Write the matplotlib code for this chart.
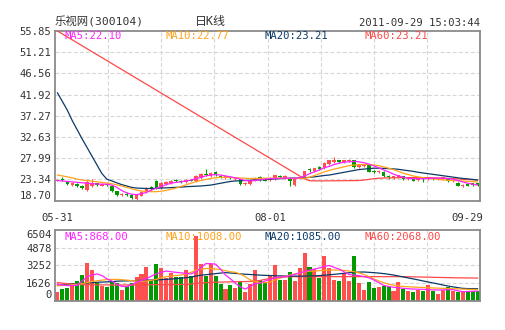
import numpy as np
import matplotlib
matplotlib.use('Agg')
import matplotlib.pyplot as plt
from matplotlib import transforms

plt.rcParams['font.family'] = ['DejaVu Sans Mono', 'Noto Sans CJK SC']

# daily K line, 2011-05-31 .. 2011-09-29 (86 trading days)
opens = [23.0, 23.5, 22.9, 22.2, 22.4, 22.0, 21.0, 21.9, 22.5, 22.0,
         22.4, 22.0, 20.7, 19.9, 20.2, 20.0, 19.0, 19.8, 20.5, 21.6,
         23.0, 21.5, 22.4, 22.5, 23.3, 23.0, 22.8, 23.3, 22.9, 23.6,
         24.6, 24.0, 25.0, 24.1, 23.7, 23.9, 23.5, 23.4, 22.4, 22.4,
         23.3, 23.8, 23.3, 23.2, 23.5, 24.1, 23.7, 23.7, 22.2, 23.6,
         23.9, 25.6, 25.2, 26.0, 25.8, 26.8, 27.2, 27.5, 27.1, 27.3,
         27.6, 26.1, 26.3, 26.5, 25.2, 24.9, 25.0, 24.1, 23.7, 23.8,
         24.0, 23.4, 23.4, 23.3, 23.6, 23.4, 23.7, 23.5, 23.5, 23.6,
         22.9, 22.6, 21.9, 22.4, 22.5, 22.5]
closes = [23.3, 23.2, 22.4, 22.6, 21.8, 21.4, 22.8, 22.6, 22.1, 22.4,
          22.2, 20.8, 20.0, 20.1, 20.0, 19.2, 19.9, 20.6, 21.5, 21.3,
          21.5, 22.5, 22.7, 23.1, 22.9, 22.8, 23.3, 23.1, 24.0, 24.5,
          24.3, 24.8, 24.2, 23.8, 24.0, 23.6, 23.7, 22.4, 22.6, 23.3,
          23.6, 23.3, 23.1, 23.7, 24.3, 23.8, 24.0, 22.9, 23.6, 23.9,
          25.1, 25.3, 25.8, 25.7, 27.0, 27.5, 27.6, 27.2, 27.5, 27.7,
          26.1, 26.4, 26.5, 25.0, 24.9, 25.2, 24.0, 23.8, 24.0, 24.2,
          23.5, 23.6, 23.1, 23.6, 23.4, 23.8, 23.5, 23.6, 23.8, 23.0,
          23.1, 22.0, 22.1, 22.0, 22.2, 22.2]
highs = [23.5, 23.9, 23.0, 22.8, 22.5, 22.1, 23.2, 23.4, 22.6, 22.6,
         22.5, 22.1, 20.8, 20.3, 20.6, 20.1, 20.1, 20.8, 21.6, 21.8,
         23.2, 22.7, 22.9, 23.2, 23.5, 23.2, 23.5, 23.4, 24.2, 24.7,
         25.6, 25.0, 25.1, 24.2, 24.1, 24.0, 23.9, 23.5, 22.8, 23.4,
         23.8, 24.0, 23.4, 23.9, 24.4, 24.2, 24.3, 23.8, 23.7, 24.0,
         25.2, 25.8, 25.9, 26.3, 27.1, 27.7, 28.2, 27.6, 27.7, 27.9,
         27.7, 26.6, 26.8, 26.7, 25.3, 25.4, 25.1, 24.2, 24.1, 24.3,
         24.1, 23.8, 23.5, 23.7, 23.7, 23.9, 23.8, 23.7, 23.9, 23.7,
         23.2, 22.7, 22.3, 22.5, 22.6, 22.6]
lows = [22.9, 23.0, 22.2, 22.0, 21.6, 21.2, 20.8, 21.6, 21.9, 21.9,
        22.0, 20.6, 19.8, 19.8, 19.7, 19.0, 18.8, 19.6, 20.3, 21.1,
        21.3, 21.3, 22.2, 22.3, 22.7, 22.6, 22.6, 22.9, 22.7, 23.4,
        24.0, 23.8, 24.0, 23.6, 23.5, 23.4, 23.3, 22.2, 22.2, 22.2,
        23.1, 23.1, 22.9, 23.0, 23.3, 23.6, 23.5, 21.8, 22.0, 23.4,
        23.8, 25.0, 25.0, 25.5, 25.6, 26.6, 27.0, 27.0, 26.9, 27.1,
        25.9, 25.9, 26.1, 24.9, 24.7, 24.7, 23.8, 23.5, 23.5, 23.6,
        23.3, 23.2, 22.9, 23.1, 22.8, 23.2, 23.3, 23.3, 23.3, 22.8,
        22.7, 21.8, 21.7, 21.8, 22.0, 22.0]

ma5 = [23.1, 23.0, 22.9, 22.8, 22.7, 22.6, 22.5, 22.4, 22.35, 22.3,
       22.3, 22.1, 21.6, 20.9, 20.4, 20.1, 20.0, 20.2, 20.5, 21.0,
       21.4, 21.8, 22.2, 22.5, 22.7, 22.8, 23.0, 23.2, 23.5, 23.8,
       24.1, 24.3, 24.4, 24.3, 24.1, 23.9, 23.7, 23.4, 23.1, 23.0,
       23.1, 23.3, 23.4, 23.5, 23.55, 23.6, 23.6, 23.6, 23.6, 23.7,
       24.1, 24.6, 25.0, 25.4, 25.9, 26.2, 26.6, 26.9, 27.1, 27.2,
       27.3, 27.2, 27.0, 26.7, 26.3, 25.9, 25.4, 25.0, 24.5, 24.1,
       23.8, 23.6, 23.5, 23.5, 23.5, 23.55, 23.6, 23.6, 23.6, 23.55,
       23.4, 23.1, 22.8, 22.5, 22.3, 22.10]
ma10 = [24.3, 24.1, 23.9, 23.7, 23.4, 23.2, 23.1, 22.95, 22.8, 22.7,
        22.55, 22.4, 22.15, 21.9, 21.6, 21.3, 21.0, 20.8, 20.7, 20.65,
        20.65, 20.75, 20.95, 21.2, 21.45, 21.8, 22.15, 22.5, 22.85, 23.1,
        23.35, 23.55, 23.7, 23.8, 23.8, 23.75, 23.7, 23.65, 23.6, 23.55,
        23.55, 23.58, 23.6, 23.6, 23.6, 23.62, 23.6, 23.55, 23.55, 23.58,
        23.6, 23.8, 24.2, 24.6, 25.0, 25.3, 25.6, 25.85, 26.1, 26.35,
        26.5, 26.6, 26.65, 26.6, 26.5, 26.35, 26.1, 25.8, 25.5, 25.1,
        24.7, 24.4, 24.1, 23.9, 23.7, 23.55, 23.45, 23.35, 23.25, 23.15,
        23.1, 23.05, 23.0, 22.9, 22.85, 22.77]
ma20 = [42.3, 40.4, 38.5, 36.2, 34.2, 32.2, 30.3, 28.4, 26.5, 24.6,
        23.4, 23.0, 22.6, 22.2, 21.9, 21.6, 21.45, 21.4, 21.35, 21.35,
        21.4, 21.45, 21.5, 21.55, 21.6, 21.65, 21.75, 21.8, 21.85, 21.9,
        22.0, 22.1, 22.3, 22.5, 22.7, 22.9, 23.0, 23.05, 23.1, 23.15,
        23.2, 23.25, 23.3, 23.4, 23.45, 23.5, 23.55, 23.6, 23.62, 23.65,
        23.7, 23.8, 23.9, 24.05, 24.2, 24.3, 24.5, 24.7, 24.9, 25.1,
        25.3, 25.5, 25.6, 25.7, 25.8, 25.8, 25.75, 25.7, 25.65, 25.55,
        25.4, 25.25, 25.1, 24.9, 24.75, 24.6, 24.45, 24.3, 24.15, 24.0,
        23.85, 23.7, 23.55, 23.45, 23.35, 23.21]
ma60 = [55.85, 55.20, 54.55, 53.91, 53.26, 52.61, 51.96, 51.31, 50.67, 50.02,
        49.37, 48.72, 48.07, 47.43, 46.78, 46.13, 45.48, 44.83, 44.19, 43.54,
        42.89, 42.24, 41.59, 40.95, 40.30, 39.65, 39.00, 38.35, 37.71, 37.06,
        36.41, 35.76, 35.11, 34.47, 33.82, 33.17, 32.52, 31.87, 31.23, 30.58,
        29.93, 29.28, 28.63, 27.99, 27.34, 26.69, 26.04, 25.39, 24.75, 24.10,
        23.45, 23.05, 23.03, 23.02, 23.02, 23.03, 23.04, 23.05, 23.06, 23.07,
        23.08, 23.10, 23.20, 23.35, 23.50, 23.60, 23.65, 23.68, 23.70, 23.72,
        23.73, 23.74, 23.75, 23.75, 23.74, 23.72, 23.68, 23.64, 23.60, 23.55,
        23.50, 23.45, 23.38, 23.32, 23.26, 23.21]

volume = [812, 1034, 1181, 1643, 1800, 2354, 3489, 2815, 1600, 1300,
          1250, 1750, 1650, 950, 1300, 1650, 2150, 2450, 3100, 1850,
          3350, 3000, 2050, 2500, 2200, 2200, 2800, 2250, 5950, 3350,
          2250, 3400, 2300, 1500, 1080, 1450, 1150, 1700, 800, 1500,
          2800, 1892, 1700, 2354, 3277, 1892, 1900, 2658, 1800, 3027,
          4357, 3120, 2900, 2104, 4107, 3000, 1892, 1800, 2510, 1800,
          4107, 1588, 969, 1735, 1181, 1250, 1338, 1250, 904, 1680,
          1034, 900, 812, 969, 900, 1431, 900, 572, 969, 1274,
          900, 800, 900, 850, 900, 890]
vma5 = [1500, 1420, 1370, 1380, 1400, 1800, 2200, 2350, 2450, 2300,
        2000, 1800, 1500, 1300, 1280, 1450, 1700, 1850, 2000, 2250,
        2450, 2600, 2720, 2650, 2600, 2550, 2500, 2450, 2650, 3000,
        3400, 3400, 3350, 2900, 2350, 2000, 1600, 1250, 1060, 1300,
        1550, 1610, 1800, 1950, 2100, 2150, 2200, 2300, 2400, 2550,
        2660, 2800, 2900, 3000, 3150, 3230, 3050, 2900, 2650, 2400,
        2350, 2300, 2200, 2100, 1900, 1650, 1400, 1300, 1220, 1180,
        1120, 1080, 1060, 1040, 1030, 1000, 980, 970, 980, 990,
        1000, 900, 800, 830, 850, 868]
vma10 = [1350, 1380, 1420, 1460, 1500, 1560, 1650, 1750, 1820, 1880,
         1930, 1950, 1950, 1920, 1880, 1830, 1800, 1780, 1800, 1850,
         1950, 2100, 2200, 2250, 2300, 2350, 2450, 2600, 2800, 2900,
         2950, 2950, 2900, 2850, 2750, 2650, 2600, 2450, 2200, 1900,
         1750, 1650, 1650, 1700, 1900, 2050, 2200, 2350, 2450, 2550,
         2650, 2700, 2720, 2750, 2780, 2800, 2815, 2800, 2780, 2720,
         2660, 2550, 2400, 2200, 2000, 1800, 1650, 1500, 1420, 1350,
         1300, 1270, 1240, 1220, 1200, 1180, 1160, 1140, 1120, 1100,
         1090, 1070, 1050, 1035, 1020, 1008]
vma20 = [1420, 1440, 1470, 1500, 1540, 1580, 1620, 1650, 1680, 1700,
         1720, 1740, 1780, 1800, 1810, 1820, 1840, 1850, 1870, 1890,
         1900, 1920, 1950, 1980, 2020, 2060, 2100, 2160, 2250, 2330,
         2380, 2430, 2480, 2530, 2570, 2540, 2500, 2460, 2420, 2400,
         2370, 2340, 2320, 2300, 2280, 2270, 2260, 2250, 2250, 2250,
         2250, 2260, 2270, 2300, 2330, 2370, 2416, 2460, 2510, 2560,
         2600, 2620, 2630, 2600, 2570, 2530, 2480, 2420, 2350, 2260,
         2170, 2080, 1990, 1900, 1800, 1710, 1620, 1530, 1425, 1340,
         1260, 1190, 1120, 1100, 1090, 1085]
vma60 = [1650, 1600, 1550, 1500, 1480, 1460, 1450, 1450, 1440, 1440,
         1440, 1430, 1430, 1430, 1440, 1440, 1440, 1450, 1450, 1450,
         1460, 1460, 1460, 1470, 1470, 1480, 1480, 1500, 1580, 1620,
         1650, 1670, 1690, 1700, 1710, 1720, 1730, 1740, 1750, 1760,
         1780, 1850, 1950, 2030, 2100, 2130, 2160, 2190, 2200, 2200,
         2200, 2200, 2200, 2200, 2200, 2200, 2200, 2200, 2200, 2200,
         2200, 2200, 2200, 2200, 2200, 2200, 2200, 2200, 2200, 2200,
         2200, 2190, 2180, 2170, 2160, 2150, 2140, 2130, 2120, 2110,
         2100, 2090, 2085, 2080, 2075, 2068]

price_ticks = [18.70, 23.34, 27.99, 32.63, 37.27, 41.92, 46.56, 51.21, 55.85]
price_labels = ['18.70', '23.34', '27.99', '32.63', '37.27', '41.92', '46.56', '51.21', '55.85']
vol_ticks = [0, 1626, 3252, 4878, 6504]
vol_labels = ['0', '1626', '3252', '4878', '6504']
date_pos = [0, 43, 85]
date_labels = ['05-31', '08-01', '09-29']

stock_name = '乐视网(300104)'
period_name = '日K线'
stamp = '2011-09-29 15:03:44'

RED = '#ff4f4f'
GREEN = '#009a00'
MA_COLORS = ['#ff22ff', '#ffa31a', '#0b3a68', '#ff4848']
GRID = '#d6d6d6'
FRAME = '#8a8a8a'
TEXT = '#333333'

n = len(closes)
x = np.arange(n)


def style_panel(ax, ticks, labels):
    ax.set_xlim(-0.5, n - 0.5)
    ax.set_ylim(ticks[0], ticks[-1])
    ax.set_yticks(ticks, labels)
    ax.tick_params(axis='y', length=0, pad=2.5, labelsize=7.6, labelcolor=TEXT)
    ax.set_xticks([])
    for s in ax.spines.values():
        s.set_color(FRAME)
        s.set_linewidth(1.3)
    for v in ticks[1:-1]:
        ax.axhline(v, color=GRID, lw=0.8, ls=(0, (3.5, 2)), zorder=0)
    for k in range(1, 8):
        ax.axvline(-0.5 + k * n / 8, color=GRID, lw=0.8, ls=(0, (3.5, 2)), zorder=0)


def ma_legend(ax, values, fmt, ypos):
    names = ['MA5', 'MA10', 'MA20', 'MA60']
    xs = [0.0235, 0.259, 0.494, 0.729]
    for name, vals, col, xp in zip(names, values, MA_COLORS, xs):
        ax.text(xp, ypos, f'{name}:{vals[-1]:{fmt}}', color=col, fontsize=7.6,
                transform=ax.transAxes, va='center', ha='left', zorder=6)


fig = plt.figure(figsize=(5.05, 3.30), dpi=100)
ax_k = fig.add_axes([55 / 505, 1 - 200.6 / 330, 425 / 505, 169.6 / 330])
ax_v = fig.add_axes([55 / 505, 1 - 300.5 / 330, 425 / 505, 70.5 / 330])

# --- price panel
style_panel(ax_k, price_ticks, price_labels)
ax_k.get_yticklabels()[0].set_va('bottom')

o = np.array(opens)
c = np.array(closes)
up = c >= o
colors = np.where(up, RED, GREEN)
ax_k.vlines(x, lows, highs, colors=colors, lw=0.8, zorder=2)
body = np.maximum(np.abs(c - o), 0.08)
ax_k.bar(x, body, bottom=np.minimum(o, c), width=0.72, color=colors, lw=0, zorder=2)

for vals, col in zip([ma60, ma20, ma10, ma5], MA_COLORS[::-1]):
    ax_k.plot(x, vals, color=col, lw=0.9, zorder=3)

ma_legend(ax_k, [ma5, ma10, ma20, ma60], '.2f', 0.9705)

ax_k.set_xticks(date_pos, date_labels)
ax_k.tick_params(axis='x', length=0, pad=9, labelsize=7.6, labelcolor=TEXT)
last = ax_k.get_xticklabels()[-1]
last.set_ha('right')
last.set_transform(last.get_transform() + transforms.ScaledTranslation(6 / 100, 0, fig.dpi_scale_trans))

# --- volume panel
style_panel(ax_v, vol_ticks, vol_labels)
vlab = ax_v.get_yticklabels()
vlab[0].set_va('bottom')
vlab[-1].set_va('top')

ax_v.bar(x, volume, width=0.82, color=colors, lw=0, zorder=2)
for vals, col in zip([vma60, vma20, vma10, vma5], MA_COLORS[::-1]):
    ax_v.plot(x, vals, color=col, lw=0.9, zorder=3)

ma_legend(ax_v, [vma5, vma10, vma20, vma60], '.2f', 0.896)

# --- header line
fig.text(55 / 505, 1 - 21.7 / 330, stock_name, fontsize=8.2, color=TEXT, va='center', ha='left')
fig.text(195 / 505, 1 - 21.7 / 330, period_name, fontsize=8.6, color=TEXT, va='center', ha='left')
fig.text(480 / 505, 1 - 22.5 / 330, stamp, fontsize=7.6, color=TEXT, va='center', ha='right')

fig.savefig('out.png', dpi=100, facecolor='white')
